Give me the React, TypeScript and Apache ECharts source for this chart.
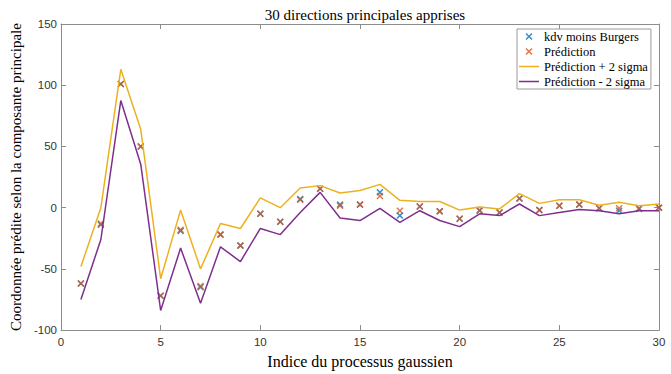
import React, { useEffect, useRef } from "react";
import * as echarts from "echarts";

const indices = [1, 2, 3, 4, 5, 6, 7, 8, 9, 10, 11, 12, 13, 14, 15, 16, 17, 18, 19, 20, 21, 22, 23, 24, 25, 26, 27, 28, 29, 30];
const kdvMoinsBurgers = [-62, -14, 101, 50, -72, -19, -65, -22, -31, -5, -11.5, 7, 15.5, 2.5, 2.5, 12.5, -6.5, 1, -3, -9, -2.5, -4, 7.5, -2, 1.5, 2.5, -0.5, -2.5, -1, 0];
const prediction = [-62, -13, 101, 50, -72, -18, -64, -22, -31, -5, -11.5, 6.5, 15.5, 1.5, 2.5, 9.5, -2.5, 1, -3, -9, -2, -4, 7.5, -2, 1.5, 2.5, -0.5, -0.5, -0.5, 0];
const predPlus2Sigma = [-48, 0, 113, 64, -58, -2, -50, -13, -17, 8, 0, 16, 18, 12, 14, 19, 6, 5, 5, -2, 0.5, -1, 11.5, 3.5, 6.5, 6.5, 2, 4.5, 1.5, 3];
const predMinus2Sigma = [-75, -26, 87.5, 35.5, -84, -33, -78, -32, -44, -17, -22, -4, 12.5, -8.5, -10.5, -0.5, -12, -2.5, -10.5, -15.5, -5, -6.5, 3, -6.5, -4, -1.5, -2.5, -5, -2.5, -2.5];

const seriesNames = ["kdv moins Burgers", "Prédiction", "Prédiction + 2 sigma", "Prédiction - 2 sigma"];
const colors = ["#0072BD", "#D95319", "#EDB120", "#7E2F8E"];

const CROSS = "path://M0,1.5 L1.5,0 L5,3.5 L8.5,0 L10,1.5 L6.5,5 L10,8.5 L8.5,10 L5,6.5 L1.5,10 L0,8.5 L3.5,5 Z";
const LINE_ICON = "path://M0,0 L20,0 L20,1.5 L0,1.5 Z";
const SERIF = "'Liberation Serif', 'Times New Roman', serif";
const SANS = "'Liberation Sans', Arial, sans-serif";

const pairs = (vals: number[]) => indices.map((x, i) => [x, vals[i]]);

export default function App() {
  const ref = useRef<HTMLDivElement>(null);
  useEffect(() => {
    if (!ref.current) return;
    const chart = echarts.init(ref.current, undefined, { renderer: "svg" });
    const axisLine = { show: true, onZero: false, lineStyle: { color: "#8c8c8c", width: 1 } };
    const axisTick = { show: true, inside: true, length: 5, lineStyle: { color: "#8c8c8c" } };
    chart.setOption({
      animation: false,
      backgroundColor: "#ffffff",
      title: {
        text: "30 directions principales apprises",
        left: 360,
        textAlign: "center",
        top: 2,
        textStyle: { fontFamily: SERIF, fontSize: 15, fontWeight: "normal", color: "#000" },
      },
      grid: { left: 61, right: 12, top: 24, bottom: 42 },
      legend: {
        left: 517,
        top: 29,
        orient: "vertical",
        backgroundColor: "#ffffff",
        borderColor: "#9a9a9a",
        borderWidth: 1,
        padding: [0, 3, 0, 2],
        itemWidth: 20,
        itemHeight: 7,
        itemGap: 0,
        symbolKeepAspect: true,
        textStyle: { fontFamily: SERIF, fontSize: 12.5, color: "#000", lineHeight: 15 },
        data: [
          { name: seriesNames[0], icon: CROSS, itemStyle: { color: colors[0] } },
          { name: seriesNames[1], icon: CROSS, itemStyle: { color: colors[1] } },
          { name: seriesNames[2], icon: LINE_ICON, itemStyle: { color: colors[2] } },
          { name: seriesNames[3], icon: LINE_ICON, itemStyle: { color: colors[3] } },
        ],
      },
      xAxis: [
        {
          type: "value",
          min: 0,
          max: 30,
          interval: 5,
          position: "bottom",
          name: "Indice du processus gaussien",
          nameLocation: "middle",
          nameGap: 17,
          nameTextStyle: { fontFamily: SERIF, fontSize: 16, color: "#000" },
          axisLine,
          axisTick,
          splitLine: { show: false },
          axisLabel: { fontFamily: SANS, fontSize: 11.5, color: "#333", margin: 6 },
        },
        {
          type: "value",
          min: 0,
          max: 30,
          interval: 5,
          position: "top",
          axisLine,
          axisTick,
          splitLine: { show: false },
          axisLabel: { show: false },
        },
      ],
      yAxis: [
        {
          type: "value",
          min: -100,
          max: 150,
          interval: 50,
          position: "left",
          name: "Coordonnée prédite selon la composante principale",
          nameLocation: "middle",
          nameGap: 37,
          nameTextStyle: { fontFamily: SERIF, fontSize: 15, color: "#000" },
          axisLine,
          axisTick,
          splitLine: { show: false },
          axisLabel: { fontFamily: SANS, fontSize: 11.5, color: "#333", margin: 4 },
        },
        {
          type: "value",
          min: -100,
          max: 150,
          interval: 50,
          position: "right",
          axisLine,
          axisTick,
          splitLine: { show: false },
          axisLabel: { show: false },
        },
      ],
      series: [
        {
          name: seriesNames[0],
          type: "scatter",
          data: pairs(kdvMoinsBurgers),
          symbol: CROSS,
          symbolSize: 7,
          itemStyle: { color: colors[0] },
        },
        {
          name: seriesNames[1],
          type: "scatter",
          data: pairs(prediction),
          symbol: CROSS,
          symbolSize: 7,
          itemStyle: { color: colors[1] },
        },
        {
          name: seriesNames[2],
          type: "line",
          data: pairs(predPlus2Sigma),
          showSymbol: false,
          symbol: "none",
          lineStyle: { color: colors[2], width: 1.5 },
          itemStyle: { color: colors[2] },
        },
        {
          name: seriesNames[3],
          type: "line",
          data: pairs(predMinus2Sigma),
          showSymbol: false,
          symbol: "none",
          lineStyle: { color: colors[3], width: 1.5 },
          itemStyle: { color: colors[3] },
        },
      ],
    });
    return () => chart.dispose();
  }, []);
  return <div ref={ref} style={{ width: 671, height: 374, position: "absolute", left: 0, top: 0 }} />;
}
